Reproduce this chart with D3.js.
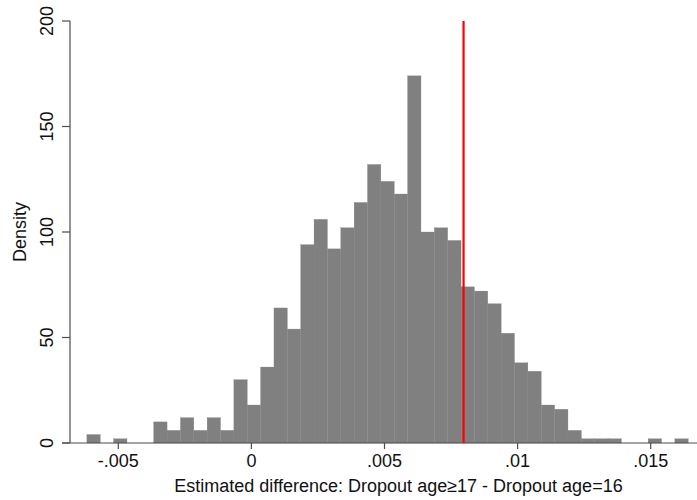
<!DOCTYPE html>
<html>
<head>
<meta charset="utf-8">
<script src="https://cdn.jsdelivr.net/npm/d3@7"></script>
<style>
  html, body { margin: 0; padding: 0; background: #fff; }
  svg { display: block; font-family: "Liberation Sans", Arial, sans-serif; }
</style>
</head>
<body>
<svg id="chart" width="697" height="500"></svg>
<script>
// Histogram data (density per bin)
const binStart = -0.00618;
const binWidth = 0.000502;
const densities = [4, 0, 2, 0, 0, 10, 6, 12, 6, 12, 6, 30, 18, 36, 64, 54, 94, 106, 92, 102,
                   114, 132, 124, 118, 174, 100, 102, 96, 74, 72, 66, 52, 38, 34, 18, 16, 6, 2, 2, 2,
                   0, 0, 2, 0, 2];
const xTicks = [-0.005, 0, 0.005, 0.01, 0.015];
const xTickLabels = ["-.005", "0", ".005", ".01", ".015"];
const yTicks = [0, 50, 100, 150, 200];
const refValue = 0.00797;
const xTitle = "Estimated difference: Dropout age\u226517 - Dropout age=16";
const yTitle = "Density";

const svg = d3.select("#chart");
const x = d3.scaleLinear().domain([-0.005, 0.015]).range([118.3, 650.7]);
const y = d3.scaleLinear().domain([0, 200]).range([443, 21]);
const axisX0 = 62, axisX1 = 697, axisY = 70;
const fs = 18;

const bins = densities.map((d, i) => ({ x0: binStart + i * binWidth, x1: binStart + (i + 1) * binWidth, v: d }));

svg.append("g").selectAll("rect").data(bins.filter(b => b.v > 0)).join("rect")
  .attr("x", d => x(d.x0))
  .attr("width", d => x(d.x1) - x(d.x0))
  .attr("y", d => y(d.v))
  .attr("height", d => y(0) - y(d.v))
  .attr("fill", "#808080")
  .attr("stroke", "#808080")
  .attr("stroke-width", 0.3);

// x axis
const gx = svg.append("g").attr("transform", `translate(0,${y(0)})`);
gx.append("line").attr("x1", axisX0).attr("x2", axisX1).attr("y1", 0).attr("y2", 0)
  .attr("stroke", "#4d4d4d").attr("stroke-width", 1.2);
const xt = gx.selectAll("g.tick").data(xTicks).join("g").attr("class", "tick")
  .attr("transform", d => `translate(${x(d)},0)`);
xt.append("line").attr("y1", 0).attr("y2", 6).attr("stroke", "#4d4d4d").attr("stroke-width", 1.2);
xt.append("text").attr("y", 24).attr("text-anchor", "middle").attr("font-size", fs).attr("fill", "#111")
  .text((d, i) => xTickLabels[i]);

// y axis
const gy = svg.append("g").attr("transform", `translate(${axisY},0)`);
gy.append("line").attr("x1", 0).attr("x2", 0).attr("y1", y(200)).attr("y2", y(0))
  .attr("stroke", "#4d4d4d").attr("stroke-width", 1.2);
const yt = gy.selectAll("g.tick").data(yTicks).join("g").attr("class", "tick")
  .attr("transform", d => `translate(0,${y(d)})`);
yt.append("line").attr("x1", 0).attr("x2", -8).attr("stroke", "#4d4d4d").attr("stroke-width", 1.2);
yt.append("text").attr("transform", "translate(-17,0) rotate(-90)").attr("text-anchor", "middle")
  .attr("font-size", fs).attr("fill", "#111").text(d => d3.format("d")(d));

// reference line
svg.append("line").attr("x1", x(refValue)).attr("x2", x(refValue))
  .attr("y1", y(200)).attr("y2", y(0)).attr("stroke", "#ff0000").attr("stroke-width", 2.2);

// titles
svg.append("text").attr("x", 398.5).attr("y", 492).attr("text-anchor", "middle")
  .attr("font-size", fs).attr("fill", "#111").text(xTitle);
svg.append("text").attr("transform", `translate(26,${(y(0) + y(200)) / 2}) rotate(-90)`)
  .attr("text-anchor", "middle").attr("font-size", fs).attr("fill", "#111").text(yTitle);
</script>
</body>
</html>
